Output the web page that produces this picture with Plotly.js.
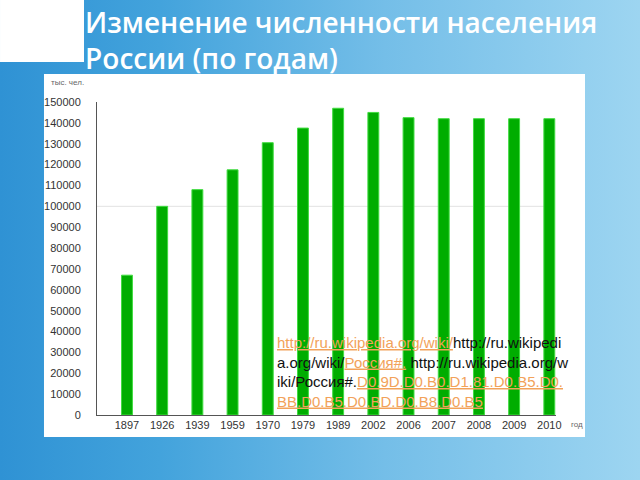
<!DOCTYPE html>
<html>
<head>
<meta charset="utf-8">
<script src="https://cdn.plot.ly/plotly-3.0.1.min.js"></script>
<style>
  html, body { margin: 0; padding: 0; }
  body {
    width: 640px; height: 480px; overflow: hidden;
    background: linear-gradient(to right, #2f92d4 0%, #43a3dc 25%, #74bee8 60%, #9dd5f1 100%);
  }
  #chart { width: 640px; height: 480px; }
</style>
</head>
<body>
<div id="chart"></div>
<script>
const years = ["1897", "1926", "1939", "1959", "1970", "1979", "1989", "2002", "2006", "2007", "2008", "2009", "2010"];
const population = [67000, 100000, 108000, 117500, 130500, 137500, 147000, 145000, 142500, 142000, 142000, 142000, 142000];
const yTicks = [0, 10000, 20000, 30000, 40000, 50000, 60000, 70000, 80000, 90000, 100000, 110000, 120000, 130000, 140000, 150000];

const linkColor = "#f2a25a";
const link = s => '<span style="color:' + linkColor + '"><u>' + s + '</u></span>';
const sourceText =
  link("http://ru.wikipedia.org/wiki/") + "http://ru.wikipedi<br>" +
  "a.org/wiki/" + link("Россия#.") + " http://ru.wikipedia.org/w<br>" +
  "iki/Россия#." + link("D0.9D.D0.B0.D1.81.D0.B5.D0.") + "<br>" +
  link("BB.D0.B5.D0.BD.D0.B8.D0.B5");

const trace = {
  type: "bar",
  x: years,
  y: population,
  marker: { color: "#00ad00", line: { color: "#40dc40", width: 1 } },
  hoverinfo: "x+y"
};

const layout = {
  width: 640, height: 480,
  margin: { l: 97, r: 84, t: 102, b: 65, pad: 0 },
  paper_bgcolor: "rgba(0,0,0,0)",
  plot_bgcolor: "rgba(0,0,0,0)",
  showlegend: false,
  bargap: 0.69,
  title: {
    text: "Изменение численности населения<br>России (по годам)",
    font: { family: "Open Sans", size: 28, color: "#ffffff", weight: 600 },
    xref: "container", yref: "container",
    x: 0.133, xanchor: "left",
    y: 0.932, yanchor: "top"
  },
  xaxis: {
    type: "category",
    range: [-0.852, 12.19],
    showline: true, linecolor: "#555555", linewidth: 1,
    ticks: "", showgrid: false, zeroline: false,
    tickfont: { family: "Liberation Sans, Arial, sans-serif", size: 11, color: "#333333" },
    fixedrange: true
  },
  yaxis: {
    range: [0, 150000],
    tickvals: yTicks,
    ticktext: yTicks.map(String),
    showline: true, linecolor: "#555555", linewidth: 1,
    ticks: "", showgrid: false, zeroline: false,
    ticklabelstandoff: 13,
    tickfont: { family: "Liberation Sans, Arial, sans-serif", size: 11, color: "#333333" },
    fixedrange: true
  },
  shapes: [
    { type: "rect", xref: "paper", yref: "paper", x0: -0.1155, x1: 1.0632, y0: -0.0703, y1: 1.0895,
      fillcolor: "#ffffff", line: { width: 0 }, layer: "below" },
    { type: "rect", xref: "paper", yref: "paper", x0: -0.2113, x1: -0.0283, y0: 1.1278, y1: 1.3259,
      fillcolor: "#ffffff", line: { width: 0 }, layer: "below" },
    { type: "line", xref: "paper", yref: "y", x0: 0, x1: 0.975, y0: 100000, y1: 100000,
      line: { color: "#e2e2e2", width: 1 }, layer: "below" }
  ],
  annotations: [
    { text: "тыс. чел.", xref: "paper", yref: "paper", x: -0.065, y: 1.061,
      xanchor: "center", yanchor: "middle", showarrow: false,
      font: { family: "Liberation Sans, Arial, sans-serif", size: 8, color: "#666666" } },
    { text: "год", xref: "paper", yref: "paper", x: 1.046, y: -0.029,
      xanchor: "center", yanchor: "middle", showarrow: false,
      font: { family: "Liberation Sans, Arial, sans-serif", size: 8, color: "#666666" } },
    { text: sourceText, xref: "paper", yref: "paper", x: 0.388, y: 0.266,
      xanchor: "left", yanchor: "top", align: "left", showarrow: false,
      font: { family: "Liberation Sans, Arial, sans-serif", size: 15, color: "#111111" } }
  ]
};

Plotly.newPlot("chart", [trace], layout, { displayModeBar: false, staticPlot: true });
</script>
</body>
</html>
